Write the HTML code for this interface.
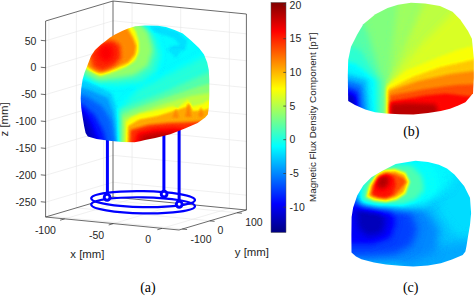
<!DOCTYPE html>
<html><head><meta charset="utf-8"><style>
html,body{margin:0;padding:0;background:#fff;width:475px;height:296px;overflow:hidden}
svg{display:block}
.g{stroke:#e6e6e6;stroke-width:0.6;fill:none}
.e{stroke:#3a3a3a;stroke-width:0.75;fill:none}
.t{font-family:"Liberation Sans",sans-serif;font-size:10.5px;fill:#262626}
.l{font-family:"Liberation Sans",sans-serif;font-size:11.4px;fill:#262626}
.c{font-family:"Liberation Sans",sans-serif;font-size:9.8px;fill:#262626}
.s{font-family:"Liberation Serif",serif;font-size:14px;fill:#000}
</style></head><body>
<svg width="475" height="296" viewBox="0 0 475 296">
<defs>
<linearGradient id="cb" x1="0" y1="0" x2="0" y2="1"><stop offset="0.000" stop-color="#800000"/><stop offset="0.125" stop-color="#ff0000"/><stop offset="0.250" stop-color="#ff8000"/><stop offset="0.375" stop-color="#ffff00"/><stop offset="0.500" stop-color="#80ff80"/><stop offset="0.625" stop-color="#00ffff"/><stop offset="0.750" stop-color="#0080ff"/><stop offset="0.875" stop-color="#0000ff"/><stop offset="1.000" stop-color="#000080"/></linearGradient>
<filter id="jet" x="0" y="0" width="100%" height="100%" color-interpolation-filters="sRGB">
<feComponentTransfer>
<feFuncR type="table" tableValues="0 0 0 0 0.5 1 1 1 0.5"/>
<feFuncG type="table" tableValues="0 0 0.5 1 1 1 0.5 0 0"/>
<feFuncB type="table" tableValues="0.5 1 1 1 0.5 0 0 0 0"/>
</feComponentTransfer>
</filter>
</defs>
<rect width="475" height="296" fill="#fff"/>
<line x1="45.60" y1="40.80" x2="113.00" y2="20.80" class="g"/><line x1="113.00" y1="20.80" x2="246.40" y2="33.80" class="g"/><line x1="45.60" y1="67.70" x2="113.00" y2="47.70" class="g"/><line x1="113.00" y1="47.70" x2="246.40" y2="60.70" class="g"/><line x1="45.60" y1="94.60" x2="113.00" y2="74.60" class="g"/><line x1="113.00" y1="74.60" x2="246.40" y2="87.60" class="g"/><line x1="45.60" y1="121.50" x2="113.00" y2="101.50" class="g"/><line x1="113.00" y1="101.50" x2="246.40" y2="114.50" class="g"/><line x1="45.60" y1="148.40" x2="113.00" y2="128.40" class="g"/><line x1="113.00" y1="128.40" x2="246.40" y2="141.40" class="g"/><line x1="45.60" y1="175.30" x2="113.00" y2="155.30" class="g"/><line x1="113.00" y1="155.30" x2="246.40" y2="168.30" class="g"/><line x1="45.60" y1="202.20" x2="113.00" y2="182.20" class="g"/><line x1="113.00" y1="182.20" x2="246.40" y2="195.20" class="g"/><line x1="48.90" y1="216.02" x2="48.90" y2="20.02" class="g"/><line x1="48.90" y1="216.02" x2="182.30" y2="229.02" class="g"/><line x1="76.40" y1="207.86" x2="76.40" y2="11.86" class="g"/><line x1="76.40" y1="207.86" x2="209.80" y2="220.86" class="g"/><line x1="103.70" y1="199.76" x2="103.70" y2="3.76" class="g"/><line x1="103.70" y1="199.76" x2="237.10" y2="212.76" class="g"/><line x1="132.08" y1="198.86" x2="132.08" y2="2.86" class="g"/><line x1="64.68" y1="218.86" x2="132.08" y2="198.86" class="g"/><line x1="180.70" y1="203.60" x2="180.70" y2="7.60" class="g"/><line x1="113.30" y1="223.60" x2="180.70" y2="203.60" class="g"/><line x1="229.40" y1="208.34" x2="229.40" y2="12.34" class="g"/><line x1="162.00" y1="228.34" x2="229.40" y2="208.34" class="g"/>
<line x1="45.60" y1="21.00" x2="113.00" y2="1.00" class="e"/><line x1="113.00" y1="1.00" x2="246.40" y2="14.00" class="e"/><line x1="45.60" y1="217.00" x2="45.60" y2="21.00" class="e"/><line x1="113.00" y1="197.00" x2="113.00" y2="1.00" class="e"/><line x1="246.40" y1="210.00" x2="246.40" y2="14.00" class="e"/><line x1="45.60" y1="217.00" x2="113.00" y2="197.00" class="e"/><line x1="113.00" y1="197.00" x2="246.40" y2="210.00" class="e"/><line x1="45.60" y1="217.00" x2="179.00" y2="230.00" class="e"/><line x1="179.00" y1="230.00" x2="246.40" y2="210.00" class="e"/>
<line x1="40.80" y1="40.33" x2="45.60" y2="40.80" class="e"/><line x1="40.80" y1="67.23" x2="45.60" y2="67.70" class="e"/><line x1="40.80" y1="94.13" x2="45.60" y2="94.60" class="e"/><line x1="40.80" y1="121.03" x2="45.60" y2="121.50" class="e"/><line x1="40.80" y1="147.93" x2="45.60" y2="148.40" class="e"/><line x1="40.80" y1="174.83" x2="45.60" y2="175.30" class="e"/><line x1="40.80" y1="201.73" x2="45.60" y2="202.20" class="e"/><line x1="64.68" y1="218.86" x2="60.08" y2="220.23" class="e"/><line x1="113.30" y1="223.60" x2="108.70" y2="224.97" class="e"/><line x1="162.00" y1="228.34" x2="157.40" y2="229.71" class="e"/><line x1="182.30" y1="229.02" x2="187.10" y2="229.49" class="e"/><line x1="209.80" y1="220.86" x2="214.60" y2="221.33" class="e"/><line x1="237.10" y1="212.76" x2="241.90" y2="213.23" class="e"/>
<g fill="none" stroke="#0000ff" stroke-width="2.2">
<ellipse cx="143.1" cy="199.1" rx="51.9" ry="8" transform="rotate(1 143.1 199.1)"/>
<ellipse cx="143.1" cy="205.3" rx="51.9" ry="8" transform="rotate(1 143.1 205.3)"/>
</g>
<g stroke="#0000ff" stroke-width="3">
<line x1="107.4" y1="135" x2="107.4" y2="197"/>
<line x1="163.9" y1="130" x2="163.9" y2="194"/>
<line x1="179.1" y1="125" x2="179.1" y2="204"/>
</g>
<g fill="#fff" stroke="#0000ff" stroke-width="2.9">
<circle cx="107.1" cy="197.3" r="2.9"/>
<circle cx="164.1" cy="194.1" r="2.9"/>
<circle cx="179.2" cy="204.3" r="2.9"/>
</g>
<defs><filter id="b0_8" x="-50%" y="-50%" width="200%" height="200%" color-interpolation-filters="sRGB"><feGaussianBlur stdDeviation="0.8"/></filter><filter id="b1" x="-50%" y="-50%" width="200%" height="200%" color-interpolation-filters="sRGB"><feGaussianBlur stdDeviation="1"/></filter><filter id="b1_2" x="-50%" y="-50%" width="200%" height="200%" color-interpolation-filters="sRGB"><feGaussianBlur stdDeviation="1.2"/></filter><filter id="b1_5" x="-50%" y="-50%" width="200%" height="200%" color-interpolation-filters="sRGB"><feGaussianBlur stdDeviation="1.5"/></filter><filter id="b2" x="-50%" y="-50%" width="200%" height="200%" color-interpolation-filters="sRGB"><feGaussianBlur stdDeviation="2"/></filter><filter id="b2_5" x="-50%" y="-50%" width="200%" height="200%" color-interpolation-filters="sRGB"><feGaussianBlur stdDeviation="2.5"/></filter><filter id="b3" x="-50%" y="-50%" width="200%" height="200%" color-interpolation-filters="sRGB"><feGaussianBlur stdDeviation="3"/></filter><filter id="b4" x="-50%" y="-50%" width="200%" height="200%" color-interpolation-filters="sRGB"><feGaussianBlur stdDeviation="4"/></filter></defs><clipPath id="hA"><polygon points="145.0,25.5 158.0,25.7 166.0,27.0 174.7,30.0 182.8,33.4 191.0,40.6 199.0,48.0 204.0,54.5 207.2,62.5 208.8,70.0 209.3,80.0 209.3,95.0 208.8,108.0 207.8,114.5 205.2,117.6 197.6,122.9 185.5,128.2 170.3,134.3 155.2,138.0 145.0,140.0 140.0,141.3 134.5,142.2 121.9,142.0 109.3,140.8 96.6,138.9 87.8,136.4 85.6,133.0 84.2,126.5 82.6,117.0 81.2,107.6 80.7,98.2 81.2,88.8 82.6,79.4 84.6,72.6 87.2,66.0 91.0,56.0 95.0,50.0 101.0,44.5 105.0,41.5 110.0,37.5 115.0,34.5 122.6,30.7 128.0,28.5 135.3,26.3"/></clipPath><g clip-path="url(#hA)"><g filter="url(#jet)"><polygon points="70.0,15.0 220.0,15.0 220.0,150.0 70.0,150.0" fill="#5f5f5f"/><polygon points="140.0,25.0 162.0,27.0 178.0,32.0 187.0,41.0 185.0,50.0 168.0,50.5 172.0,46.0 180.0,45.0 174.0,38.0 160.0,33.5 145.0,31.0" fill="#585858" filter="url(#b1_2)"/><polygon points="168.0,49.0 182.0,49.0 176.0,58.0" fill="#595959" filter="url(#b1_2)"/><polygon points="140.0,88.0 185.0,66.0 200.0,58.0 215.0,54.0 215.0,150.0 117.0,150.0 118.0,112.0 128.0,100.0" fill="#696969" filter="url(#b3)"/><polygon points="135.0,104.0 165.0,92.0 200.0,76.0 215.0,70.0 215.0,150.0 119.5,150.0 120.0,110.0" fill="#757575" filter="url(#b2)"/><polygon points="132.0,110.0 162.0,99.0 200.0,86.0 215.0,82.0 215.0,150.0 121.5,150.0 122.0,115.0" fill="#828282" filter="url(#b1_5)"/><polygon points="130.0,116.0 158.0,106.0 190.0,96.0 215.0,92.0 215.0,150.0 123.5,150.0 124.0,119.0" fill="#8f8f8f" filter="url(#b1_5)"/><polygon points="70.0,78.0 86.0,80.0 100.0,87.0 112.0,94.0 116.0,106.0 117.0,120.0 117.5,150.0 70.0,150.0" fill="#545454" filter="url(#b1_5)"/><polygon points="70.0,84.0 90.0,90.0 108.0,98.0 113.0,112.0 115.0,130.0 116.0,150.0 70.0,150.0" fill="#474747" filter="url(#b1_5)"/><polygon points="70.0,92.0 86.0,96.0 102.0,106.0 111.0,120.0 116.0,150.0 70.0,150.0" fill="#383838" filter="url(#b2)"/><polygon points="70.0,100.0 82.0,104.0 95.0,115.0 104.0,132.0 108.0,150.0 70.0,150.0" fill="#262626" filter="url(#b2)"/><polygon points="70.0,108.0 82.0,110.0 91.0,122.0 98.0,140.0 100.0,150.0 70.0,150.0" fill="#171717" filter="url(#b2)"/><polygon points="70.0,115.0 82.0,117.0 88.0,128.0 94.0,150.0 70.0,150.0" fill="#0d0d0d" filter="url(#b2)"/><polygon points="125.5,150.0 126.0,122.0 131.0,117.7 139.0,114.0 158.0,110.0 173.0,106.0 177.0,108.3 188.2,99.5 192.0,106.4 203.4,103.5 207.0,100.7 215.0,100.0 215.0,150.0" fill="#9e9e9e" filter="url(#b1)"/><polygon points="127.5,150.0 128.0,126.0 139.0,119.6 157.9,115.8 173.0,111.0 186.0,107.0 189.0,103.0 193.0,111.0 203.4,110.0 215.0,107.0 215.0,150.0" fill="#b5b5b5" filter="url(#b1_2)"/><polygon points="172.0,118.0 176.0,108.0 179.0,118.0" fill="#bdbdbd" filter="url(#b0_8)"/><polygon points="185.0,117.0 188.5,103.0 191.5,117.0" fill="#bfbfbf" filter="url(#b0_8)"/><polygon points="198.0,117.0 201.0,106.0 204.0,117.0" fill="#bdbdbd" filter="url(#b0_8)"/><polygon points="129.5,150.0 130.5,130.0 148.0,125.0 167.0,123.0 182.5,122.5 195.0,122.0 215.0,120.0 215.0,150.0" fill="#d4d4d4" filter="url(#b1_5)"/><polygon points="133.0,150.0 138.0,133.0 155.0,129.5 175.0,128.5 185.0,130.0 192.0,150.0" fill="#e6e6e6" filter="url(#b2)"/><polygon points="140.0,150.0 143.0,137.0 160.0,134.0 173.0,134.0 178.0,150.0" fill="#f2f2f2" filter="url(#b2)"/><polygon points="78.0,60.0 82.0,76.0 98.0,83.0 118.0,84.0 140.0,82.0 155.0,72.0 160.0,55.0 155.0,38.0 146.0,26.0 98.0,26.0 84.0,42.0" fill="#6e6e6e" filter="url(#b3)"/><polygon points="80.0,58.0 84.0,72.0 98.0,80.0 116.0,78.0 134.0,75.0 148.0,66.0 153.0,50.0 148.0,32.0 138.0,22.0 98.0,28.0 84.0,44.0" fill="#858585" filter="url(#b2_5)"/><polygon points="82.0,60.0 86.0,68.5 93.0,72.5 100.0,76.0 108.0,74.0 116.0,71.0 126.0,67.0 135.0,61.0 139.0,52.0 139.0,42.0 136.0,32.0 131.0,24.0 100.0,30.0 86.0,46.0" fill="#9e9e9e" filter="url(#b1_2)"/><polygon points="84.0,62.0 89.0,68.0 97.0,72.5 101.0,73.0 108.0,71.0 116.0,68.0 128.0,63.0 135.0,55.0 136.5,46.0 133.0,37.0 127.0,27.0 100.0,32.0 88.0,48.0" fill="#bdbdbd" filter="url(#b1_5)"/><polygon points="90.0,54.0 100.0,44.0 112.0,40.0 120.0,45.0 121.0,58.0 114.0,66.0 102.0,71.0 93.0,67.0" fill="#d6d6d6" filter="url(#b2)"/><ellipse cx="106" cy="53" rx="8" ry="9" transform="rotate(0 106 53)" fill="#e0e0e0" filter="url(#b3)"/></g></g><clipPath id="hB"><polygon points="411.0,2.8 398.0,4.8 387.6,8.1 375.4,14.2 363.3,24.3 357.2,34.5 351.0,46.7 348.2,60.0 347.8,75.0 348.0,90.0 348.2,101.0 355.0,105.0 365.3,109.6 375.0,112.3 386.0,113.6 400.0,114.3 413.4,114.4 428.0,113.0 440.8,111.0 450.0,108.8 458.3,105.5 465.4,102.3 469.5,97.5 473.0,93.2 473.8,77.7 473.8,58.0 471.9,38.8 468.0,31.0 460.2,19.4 452.5,11.7 440.0,6.0 425.0,3.5"/></clipPath><g clip-path="url(#hB)"><g filter="url(#jet)"><polygon points="340.0,-5.0 480.0,-5.0 480.0,120.0 340.0,120.0" fill="#808080"/><polygon points="388.0,86.0 398.0,0.0 480.0,-5.0 480.0,120.0 388.0,120.0" fill="#878787" filter="url(#b3)"/><polygon points="388.0,86.0 425.0,0.0 480.0,-5.0 480.0,120.0 388.0,120.0" fill="#8f8f8f" filter="url(#b3)"/><polygon points="388.0,86.0 420.0,45.0 455.0,10.0 480.0,10.0 480.0,120.0 388.0,120.0" fill="#969696" filter="url(#b3)"/><polygon points="382.0,120.0 384.0,86.0 370.0,40.0 355.0,0.0 340.0,0.0 340.0,120.0" fill="#757575" filter="url(#b3)"/><polygon points="379.0,120.0 380.0,82.0 360.0,50.0 340.0,42.0 340.0,120.0" fill="#6b6b6b" filter="url(#b2_5)"/><polygon points="376.0,120.0 375.0,80.0 356.0,64.0 340.0,60.0 340.0,120.0" fill="#5e5e5e" filter="url(#b2)"/><polygon points="370.0,120.0 367.0,80.0 352.0,75.0 340.0,73.0 340.0,120.0" fill="#4f4f4f" filter="url(#b2)"/><polygon points="366.0,120.0 362.0,85.0 350.0,81.0 340.0,81.0 340.0,120.0" fill="#3d3d3d" filter="url(#b2)"/><polygon points="361.0,120.0 358.0,91.0 348.0,87.0 340.0,87.0 340.0,120.0" fill="#292929" filter="url(#b2)"/><polygon points="357.0,120.0 355.0,96.0 348.0,93.0 340.0,93.0 340.0,120.0" fill="#121212" filter="url(#b2)"/><polygon points="386.4,120.0 386.4,86.2 405.7,70.8 431.3,60.0 457.0,50.0 480.0,44.0 480.0,120.0" fill="#9e9e9e" filter="url(#b1_5)"/><polygon points="388.0,120.0 388.0,89.0 412.0,77.0 440.0,67.0 480.0,58.0 480.0,120.0" fill="#adadad" filter="url(#b1_5)"/><polygon points="389.0,120.0 389.0,91.0 418.0,81.0 450.0,74.0 480.0,70.0 480.0,120.0" fill="#bdbdbd" filter="url(#b1_5)"/><polygon points="389.5,120.0 390.0,95.5 425.5,89.0 456.0,85.0 480.0,84.0 480.0,120.0" fill="#cccccc" filter="url(#b1_5)"/><polygon points="390.0,120.0 390.3,101.6 425.5,95.5 445.8,93.5 462.0,95.5 480.0,97.0 480.0,120.0" fill="#dedede" filter="url(#b1_5)"/><polygon points="391.0,120.0 391.0,104.0 410.0,103.0 436.0,104.0 440.0,120.0" fill="#f0f0f0" filter="url(#b2)"/></g></g><clipPath id="hC"><polygon points="415.5,160.8 395.7,164.1 381.5,171.2 371.4,177.3 363.2,185.4 357.2,195.5 353.1,207.7 351.6,217.0 351.4,235.0 351.5,252.6 356.0,256.5 361.4,259.2 374.0,262.5 386.0,264.6 400.0,265.8 413.4,266.5 428.0,265.5 440.8,263.3 452.0,259.5 462.7,255.0 465.4,251.5 466.5,246.0 468.0,236.6 470.0,225.0 471.1,213.3 470.0,197.8 464.1,186.1 454.4,174.4 447.0,168.5 438.9,164.7 428.0,162.0"/></clipPath><g clip-path="url(#hC)"><g filter="url(#jet)"><polygon points="340.0,150.0 480.0,150.0 480.0,275.0 340.0,275.0" fill="#525252"/><polygon points="440.0,150.0 480.0,150.0 480.0,240.0 455.0,235.0 440.0,215.0 435.0,190.0" fill="#575757" filter="url(#b4)"/><polygon points="405.0,150.0 450.0,150.0 458.0,168.0 448.0,188.0 428.0,195.0 410.0,180.0" fill="#5e5e5e" filter="url(#b4)"/><polygon points="400.0,252.0 430.0,247.0 455.0,243.0 480.0,240.0 480.0,275.0 400.0,275.0" fill="#4a4a4a" filter="url(#b4)"/><polygon points="340.0,196.0 370.0,199.0 405.0,203.0 428.0,212.0 440.0,230.0 436.0,252.0 410.0,262.0 370.0,262.0 340.0,262.0" fill="#424242" filter="url(#b4)"/><polygon points="340.0,198.0 365.0,200.0 395.0,203.0 410.0,212.0 418.0,228.0 412.0,245.0 395.0,254.0 370.0,256.0 340.0,256.0" fill="#303030" filter="url(#b4)"/><polygon points="340.0,203.0 368.0,204.0 390.0,208.0 396.0,222.0 390.0,238.0 372.0,244.0 340.0,244.0" fill="#1f1f1f" filter="url(#b3)"/><polygon points="356.0,209.0 378.0,210.0 386.0,220.0 382.0,233.0 368.0,236.0 358.0,228.0" fill="#0f0f0f" filter="url(#b3)"/><polygon points="358.0,204.0 360.0,185.0 370.0,170.0 384.0,162.0 420.0,160.0 436.0,170.0 440.0,192.0 428.0,203.0 405.0,209.0 376.0,208.0" fill="#616161" filter="url(#b4)"/><polygon points="362.0,201.0 363.0,186.0 372.0,172.0 384.0,166.0 395.0,164.0 412.0,166.0 422.0,176.0 424.0,190.0 416.0,199.0 402.0,204.0 378.0,204.0" fill="#737373" filter="url(#b2_5)"/><polygon points="366.0,197.0 369.0,185.0 376.7,174.2 384.3,169.6 395.0,168.8 405.6,172.6 410.0,181.7 405.6,193.9 396.5,200.0 385.8,202.3 373.7,200.7" fill="#9e9e9e" filter="url(#b1_2)"/><polygon points="368.5,195.5 371.5,185.0 378.0,176.0 385.0,172.0 395.0,171.5 404.0,175.0 407.5,182.0 403.0,192.5 395.0,197.5 386.0,200.0 375.0,198.5" fill="#b8b8b8" filter="url(#b1_2)"/><polygon points="371.4,195.4 373.7,186.3 379.7,177.2 387.3,173.4 395.0,174.2 404.0,178.7 405.6,182.5 395.0,195.0 387.3,197.5 378.2,196.5" fill="#cccccc" filter="url(#b1_2)"/><polygon points="372.0,194.0 374.0,186.0 380.0,178.0 388.0,175.0 394.0,177.0 396.0,185.0 392.0,195.0 385.0,198.0 378.0,197.0" fill="#dbdbdb" filter="url(#b1_5)"/><ellipse cx="383" cy="182" rx="6" ry="7.5" transform="rotate(35 383 182)" fill="#f2f2f2" filter="url(#b2_5)"/></g></g>
<rect x="271" y="2.5" width="15" height="230.0" fill="url(#cb)" stroke="#555" stroke-width="0.5"/>
<line x1="283.30" y1="5.00" x2="286.00" y2="5.00" class="e"/><line x1="283.30" y1="38.70" x2="286.00" y2="38.70" class="e"/><line x1="283.30" y1="72.40" x2="286.00" y2="72.40" class="e"/><line x1="283.30" y1="106.10" x2="286.00" y2="106.10" class="e"/><line x1="283.30" y1="139.70" x2="286.00" y2="139.70" class="e"/><line x1="283.30" y1="173.50" x2="286.00" y2="173.50" class="e"/><line x1="283.30" y1="207.20" x2="286.00" y2="207.20" class="e"/>
<text x="36.4" y="44.5" text-anchor="end" class="t">50</text><text x="36.4" y="71.4" text-anchor="end" class="t">0</text><text x="36.4" y="98.3" text-anchor="end" class="t">-50</text><text x="36.4" y="125.2" text-anchor="end" class="t">-100</text><text x="36.4" y="152.1" text-anchor="end" class="t">-150</text><text x="36.4" y="179.0" text-anchor="end" class="t">-200</text><text x="36.4" y="205.9" text-anchor="end" class="t">-250</text><text x="55.9" y="233.6" text-anchor="end" class="t">-100</text><text x="104.2" y="239.0" text-anchor="end" class="t">-50</text><text x="151.1" y="242.8" text-anchor="end" class="t">0</text><text x="190.5" y="242.6" class="t">-100</text><text x="217.6" y="233.8" class="t">0</text><text x="245.2" y="226.0" class="t">100</text><text x="70.3" y="258.1" class="l">x [mm]</text><text x="234.8" y="256.3" class="l">y [mm]</text><text transform="translate(8,119.4) rotate(-90)" text-anchor="middle" class="l">z [mm]</text><text x="289.6" y="8.7" class="t">20</text><text x="289.6" y="42.4" class="t">15</text><text x="289.6" y="76.1" class="t">10</text><text x="289.6" y="109.8" class="t">5</text><text x="289.6" y="143.4" class="t">0</text><text x="289.6" y="177.2" class="t">-5</text><text x="289.6" y="210.9" class="t">-10</text><text transform="translate(316.2,117.3) rotate(-90)" text-anchor="middle" class="c">Magnetic Flux Density Component [pT]</text><text x="147.9" y="292.0" text-anchor="middle" class="s">(a)</text><text x="411.3" y="135.5" text-anchor="middle" class="s">(b)</text><text x="410.7" y="292.0" text-anchor="middle" class="s">(c)</text>
</svg>
</body></html>
